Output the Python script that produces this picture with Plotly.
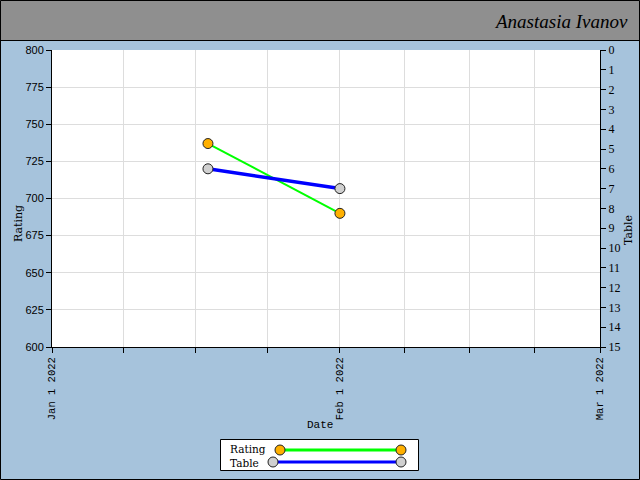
import plotly.graph_objects as go

# ---- data ----
dates = ["2022-01-17 19:00", "2022-02-01"]
rating = [737, 690]
table_pos = [6, 7]

x_tickvals = ["2022-01-01", "2022-01-08 18:00", "2022-01-16 12:00", "2022-01-24 06:00",
              "2022-02-01", "2022-02-08", "2022-02-15", "2022-02-22", "2022-03-01"]
x_ticktext = ["Jan 1 2022", "", "", "", "Feb 1 2022", "", "", "", "Mar 1 2022"]

W, H = 640, 480
L, R, T, B = 52, 40, 50, 133
PW, PH = W - L - R, H - T - B


def px(x):
    return (x - L) / PW


def py(y):
    return (H - B - y) / PH


BG = "#a6c3dc"
SERIF = "DejaVu Serif, Liberation Serif, serif"
MONO = "Liberation Mono, DejaVu Sans Mono, monospace"

fig = go.Figure()
fig.add_trace(go.Scatter(
    x=dates, y=rating, name="Rating", mode="lines+markers",
    line=dict(color="#00ff00", width=2),
    marker=dict(size=10, color="#ffb000", line=dict(color="#222222", width=1)),
    yaxis="y", showlegend=False,
))
fig.add_trace(go.Scatter(
    x=dates, y=table_pos, name="Table", mode="lines+markers",
    line=dict(color="#0000ff", width=3.5),
    marker=dict(size=10, color="#d0d0d0", line=dict(color="#222222", width=1)),
    yaxis="y2", showlegend=False,
))

shapes = [
    # title bar
    dict(type="rect", xref="paper", yref="paper", x0=px(0), x1=px(W), y0=py(0), y1=py(40),
         fillcolor="#8f8f8f", line=dict(width=0), layer="below"),
    dict(type="line", xref="paper", yref="paper", x0=px(0), x1=px(W), y0=py(40.5), y1=py(40.5),
         line=dict(color="black", width=1)),
    # outer border
    dict(type="rect", xref="paper", yref="paper", x0=px(0.5), x1=px(W - 0.5), y0=py(0.5), y1=py(H - 0.5),
         line=dict(color="black", width=1)),
    # legend box
    dict(type="rect", xref="paper", yref="paper", x0=px(220.5), x1=px(418.5), y0=py(439.5), y1=py(470.5),
         fillcolor="white", line=dict(color="black", width=1)),
    # legend lines
    dict(type="line", xref="paper", yref="paper", x0=px(280), x1=px(401), y0=py(450), y1=py(450),
         line=dict(color="#00ff00", width=3)),
    dict(type="line", xref="paper", yref="paper", x0=px(273), x1=px(401), y0=py(462), y1=py(462),
         line=dict(color="#0000ff", width=3)),
]
for cx, cy, col in [(280, 450, "#ffb000"), (401, 450, "#ffb000"), (273, 462, "#d0d0d0"), (401, 462, "#d0d0d0")]:
    shapes.append(dict(type="circle", xref="paper", yref="paper",
                       x0=px(cx - 5), x1=px(cx + 5), y0=py(cy + 5), y1=py(cy - 5),
                       fillcolor=col, line=dict(color="#222222", width=1)))

annotations = [
    dict(text="Anastasia Ivanov", xref="paper", yref="paper", x=px(630), y=py(22),
         xanchor="right", yanchor="middle", showarrow=False,
         font=dict(family="Liberation Serif, serif", size=19, color="black", style="italic")),
    dict(text="Rating<br>Table", xref="paper", yref="paper", x=px(228), y=py(456),
         xanchor="left", yanchor="middle", showarrow=False, align="left",
         font=dict(family=SERIF, size=10.5, color="black")),
    # axis titles
    dict(text="Rating", xref="paper", yref="paper", x=px(18), y=py(224),
         xanchor="center", yanchor="middle", showarrow=False, textangle=-90,
         font=dict(family=SERIF, size=11, color="black")),
    dict(text="Table", xref="paper", yref="paper", x=px(628), y=py(230),
         xanchor="center", yanchor="middle", showarrow=False, textangle=-90,
         font=dict(family=SERIF, size=11, color="black")),
    dict(text="Date", xref="paper", yref="paper", x=px(320), y=py(425),
         xanchor="center", yanchor="middle", showarrow=False,
         font=dict(family=MONO, size=11, color="black")),
]

fig.update_layout(
    width=W, height=H,
    margin=dict(l=L, r=R, t=T, b=B, pad=0, autoexpand=False),
    paper_bgcolor=BG, plot_bgcolor="white",
    showlegend=False,
    xaxis=dict(
        type="date", range=["2022-01-01", "2022-03-01"], automargin=False,
        tickmode="array", tickvals=x_tickvals, ticktext=x_ticktext,
        tickangle=-90, ticks="outside", ticklen=5, tickcolor="black",
        showline=True, linecolor="black", linewidth=1,
        showgrid=True, gridcolor="#dddddd", zeroline=False,
        tickfont=dict(family=MONO, size=10.5, color="black"),
    ),
    yaxis=dict(
        range=[600, 800], dtick=25, tick0=600, automargin=False,
        ticks="outside", ticklen=5, tickcolor="black",
        showline=True, linecolor="black", linewidth=1,
        showgrid=True, gridcolor="#dddddd", zeroline=False,
        tickfont=dict(family="Liberation Sans, Arial, sans-serif", size=11, color="black"),
    ),
    yaxis2=dict(
        range=[15, 0], dtick=1, tick0=0, overlaying="y", side="right", automargin=False,
        ticks="outside", ticklen=5, tickcolor="black",
        showline=True, linecolor="black", linewidth=1,
        showgrid=False, zeroline=False,
        tickfont=dict(family="Liberation Serif, serif", size=12, color="black"),
    ),
    shapes=shapes,
    annotations=annotations,
)

fig.write_html("out.html", config={"displayModeBar": False},
               post_script="document.body.style.margin='0';document.body.style.overflow='hidden';")
